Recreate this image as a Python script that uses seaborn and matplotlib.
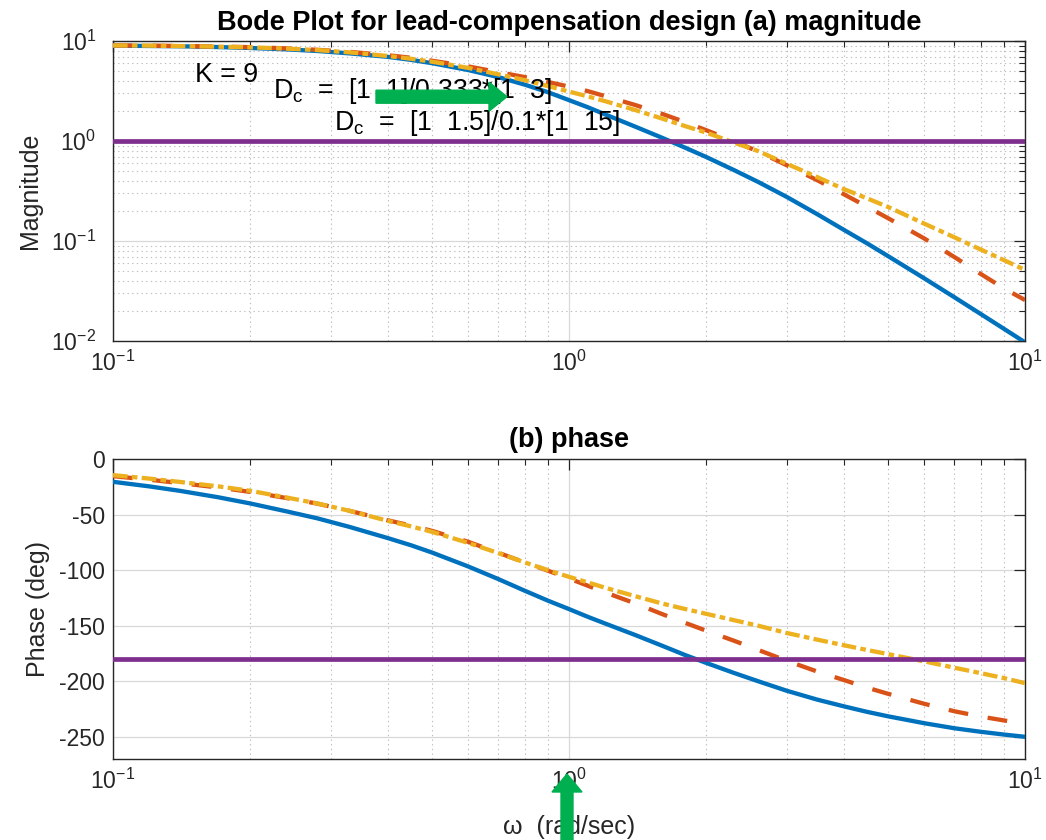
import numpy as np
import pandas as pd
import matplotlib
matplotlib.use("Agg")
import matplotlib.pyplot as plt
import seaborn as sns
from matplotlib.patches import FancyArrow
from matplotlib.transforms import IdentityTransform
from matplotlib.ticker import LogLocator, NullFormatter, LogFormatterSciNotation, FixedLocator

# ---------------- data ----------------
omega = [0.1, 0.12, 0.14, 0.17, 0.2, 0.24, 0.28, 0.33, 0.4, 0.45, 0.5, 0.6, 0.7,
         0.8, 0.9, 1.0, 1.1, 1.2, 1.4, 1.6, 1.8, 2.0, 2.3, 2.6, 3.0, 3.5, 4.0,
         4.5, 5.0, 6.0, 7.0, 8.0, 9.0, 10.0]

# magnitude, K = 9 (no compensation)
mag_k9 = [9.02, 8.95, 8.89, 8.73, 8.55, 8.28, 7.98, 7.55, 6.97, 6.50, 6.03, 5.15,
          4.37, 3.67, 3.08, 2.57, 2.18, 1.85, 1.39, 1.08, 0.857, 0.693, 0.513,
          0.390, 0.277, 0.186, 0.130, 0.0951, 0.0710, 0.0426, 0.0274, 0.0186,
          0.0132, 0.0097]
# magnitude, Dc = [1 1]/0.333*[1 3]
mag_dc1 = [9.06, 9.02, 8.95, 8.83, 8.71, 8.47, 8.20, 7.82, 7.24, 6.82, 6.38, 5.60,
           4.90, 4.37, 3.90, 3.51, 3.16, 2.82, 2.29, 1.875, 1.545, 1.285, 1.0,
           0.785, 0.575, 0.407, 0.295, 0.221, 0.170, 0.1067, 0.0692, 0.0468,
           0.0335, 0.0257]
# magnitude, Dc = [1 1.5]/0.1*[1 15]
mag_dc2 = [9.06, 9.02, 8.93, 8.81, 8.67, 8.43, 8.15, 7.73, 7.11, 6.67, 6.24, 5.41,
           4.66, 4.07, 3.55, 3.13, 2.80, 2.51, 2.04, 1.68, 1.41, 1.216, 0.966,
           0.794, 0.594, 0.437, 0.332, 0.268, 0.220, 0.150, 0.109, 0.0822,
           0.0643, 0.0514]

phase_k9 = [-20.4, -24.5, -28.5, -34.3, -39.9, -47.0, -53.2, -61.0, -71.0, -77.5,
            -84.0, -96.5, -108.0, -118.5, -127.5, -135.0, -142.0, -148.0, -158.5,
            -168.0, -176.5, -183.5, -192.5, -200.0, -208.5, -216.5, -222.5,
            -227.5, -231.5, -237.7, -242.3, -245.5, -248.0, -250.0]
phase_dc1 = [-15.3, -18.5, -21.5, -25.5, -29.5, -35.0, -40.0, -46.5, -55.0, -59.8,
             -64.5, -74.3, -84.3, -93.0, -100.5, -107.5, -114.0, -120.0, -130.0,
             -139.5, -147.5, -154.5, -163.5, -171.8, -181.5, -191.2, -198.8,
             -205.7, -211.2, -220.2, -227.0, -231.8, -235.3, -238.3]
phase_dc2 = [-14.4, -17.5, -20.5, -24.5, -28.5, -34.5, -39.8, -46.5, -55.5, -60.5,
             -65.4, -75.3, -84.6, -93.0, -100.0, -106.0, -111.0, -115.8, -123.5,
             -130.0, -135.0, -139.3, -145.0, -150.0, -156.5, -162.5, -167.5,
             -171.8, -175.5, -182.0, -187.8, -192.7, -197.2, -201.7]

ref_mag = 1.0
ref_phase = -180.0

x_ticks = [0.1, 1, 10]
mag_ticks = [0.01, 0.1, 1, 10]
phase_ticks = [-250, -200, -150, -100, -50, 0]

title_top = "Bode Plot for lead-compensation design (a) magnitude"
title_bot = "(b) phase"
ylabel_top = "Magnitude"
ylabel_bot = "Phase (deg)"
xlabel_bot = "\u03c9  (rad/sec)"
txt_k = "K = 9"
txt_dc1 = r"D$_{\mathrm{c}}$  =  [1  1]/0.333*[1  3]"
txt_dc2 = r"D$_{\mathrm{c}}$  =  [1  1.5]/0.1*[1  15]"

# ---------------- style ----------------
sns.set_style("white")
plt.rcParams["font.family"] = ["Liberation Sans", "DejaVu Sans"]
plt.rcParams["mathtext.fontset"] = "custom"
plt.rcParams["mathtext.rm"] = "Liberation Sans"
plt.rcParams["mathtext.it"] = "Liberation Sans:italic"
plt.rcParams["mathtext.bf"] = "Liberation Sans:bold"
plt.rcParams["axes.unicode_minus"] = False
plt.rcParams["lines.solid_joinstyle"] = "round"
plt.rcParams["lines.dash_joinstyle"] = "round"

C_BLUE = "#0072BD"
C_RED = "#D95319"
C_YEL = "#EDB120"
C_PUR = "#7E2F8E"
C_AX = "#262626"
LW = 3.1
RED_DASH = [4.6, 4.6]
YEL_DASH = [3.4, 1.0, 1.3, 1.0]

df = pd.DataFrame({
    "omega": omega,
    "mag_k9": mag_k9, "mag_dc1": mag_dc1, "mag_dc2": mag_dc2,
    "ph_k9": phase_k9, "ph_dc1": phase_dc1, "ph_dc2": phase_dc2,
})

fig = plt.figure(figsize=(10.46, 8.4), dpi=100)
ax1 = fig.add_axes([0.108, 0.594, 0.872, 0.357])
ax2 = fig.add_axes([0.108, 0.0964, 0.872, 0.357])


def style_axes(ax, logy, ypad):
    ax.set_xscale("log")
    if logy:
        ax.set_yscale("log")
    for s in ax.spines.values():
        s.set_color(C_AX)
        s.set_linewidth(1.0)
        s.set_visible(True)
    ax.tick_params(which="major", direction="in", length=8, width=0.9,
                   colors=C_AX, labelsize=16.5, top=True, right=True)
    ax.tick_params(which="minor", direction="in", length=4.5, width=0.8,
                   colors=C_AX, top=True, right=True)
    ax.tick_params(axis="y", which="major", pad=ypad)
    ax.tick_params(axis="x", which="major", pad=7)
    ax.grid(True, which="major", color="#d8d8d8", linewidth=0.9, linestyle="-")
    ax.grid(True, which="minor", color="#bdbdbd", linewidth=0.8, linestyle=(0, (1.2, 3)))
    ax.set_axisbelow(True)
    ax.set_facecolor("white")


def draw_curves(ax, ycols, ref):
    sns.lineplot(data=df, x="omega", y=ycols[0], ax=ax, color=C_BLUE, linewidth=LW,
                 sort=False, estimator=None, zorder=3)
    sns.lineplot(data=df, x="omega", y=ycols[1], ax=ax, color=C_RED, linewidth=LW,
                 sort=False, estimator=None, zorder=4)
    ax.lines[-1].set_dashes(RED_DASH)
    sns.lineplot(data=df, x="omega", y=ycols[2], ax=ax, color=C_YEL, linewidth=LW,
                 sort=False, estimator=None, zorder=5)
    ax.lines[-1].set_dashes(YEL_DASH)
    ax.axhline(ref, color=C_PUR, linewidth=LW + 0.3, zorder=6)


# ----- magnitude -----
draw_curves(ax1, ["mag_k9", "mag_dc1", "mag_dc2"], ref_mag)
style_axes(ax1, True, 12)
ax1.set_xlim(0.1, 10)
ax1.set_ylim(0.01, 10)
ax1.xaxis.set_major_locator(FixedLocator(x_ticks))
ax1.xaxis.set_major_formatter(LogFormatterSciNotation())
ax1.xaxis.set_minor_locator(LogLocator(base=10, subs=np.arange(2, 10)))
ax1.xaxis.set_minor_formatter(NullFormatter())
ax1.yaxis.set_major_locator(FixedLocator(mag_ticks))
ax1.yaxis.set_major_formatter(LogFormatterSciNotation())
ax1.yaxis.set_minor_locator(LogLocator(base=10, subs=np.arange(2, 10)))
ax1.yaxis.set_minor_formatter(NullFormatter())
ax1.set_xlabel("")
ax1.set_ylabel(ylabel_top, fontsize=18, color=C_AX)
ax1.yaxis.set_label_coords(-0.078, 0.5)
ax1.set_title(title_top, fontsize=19.5, fontweight="bold", color="black", pad=8)

ax1.text(0.1513, 3.92, txt_k, fontsize=19.3, color="black", ha="left", va="baseline", zorder=7)
ax1.text(0.2240, 2.67, txt_dc1, fontsize=19.3, color="black", ha="left", va="baseline", zorder=7)
ax1.text(0.3057, 1.288, txt_dc2, fontsize=19.3, color="black", ha="left", va="baseline", zorder=7)

# ----- phase -----
draw_curves(ax2, ["ph_k9", "ph_dc1", "ph_dc2"], ref_phase)
style_axes(ax2, False, 6)
ax2.set_xlim(0.1, 10)
ax2.set_ylim(-270, 0)
ax2.xaxis.set_major_locator(FixedLocator(x_ticks))
ax2.xaxis.set_major_formatter(LogFormatterSciNotation())
ax2.xaxis.set_minor_locator(LogLocator(base=10, subs=np.arange(2, 10)))
ax2.xaxis.set_minor_formatter(NullFormatter())
ax2.yaxis.set_major_locator(FixedLocator(phase_ticks))
ax2.yaxis.set_minor_locator(FixedLocator([]))
ax2.set_xlabel(xlabel_bot, fontsize=18, color=C_AX, labelpad=15)
ax2.set_ylabel(ylabel_bot, fontsize=18, color=C_AX)
ax2.yaxis.set_label_coords(-0.069, 0.5)
ax2.set_title(title_bot, fontsize=19.5, fontweight="bold", color="black", pad=9)

# ----- green overlay arrows (pixel coordinates) -----
H = 840
green = "#00B050"
fig.add_artist(FancyArrow(376, H - 96.7, 131, 0, width=13, head_width=29,
                          head_length=18, length_includes_head=True,
                          transform=IdentityTransform(), color=green, zorder=20))
fig.add_artist(FancyArrow(567, -5, 0, (H - 774) + 5, width=12, head_width=30,
                          head_length=18, length_includes_head=True,
                          transform=IdentityTransform(), color=green, zorder=20))

fig.savefig("out.png", dpi=100)
